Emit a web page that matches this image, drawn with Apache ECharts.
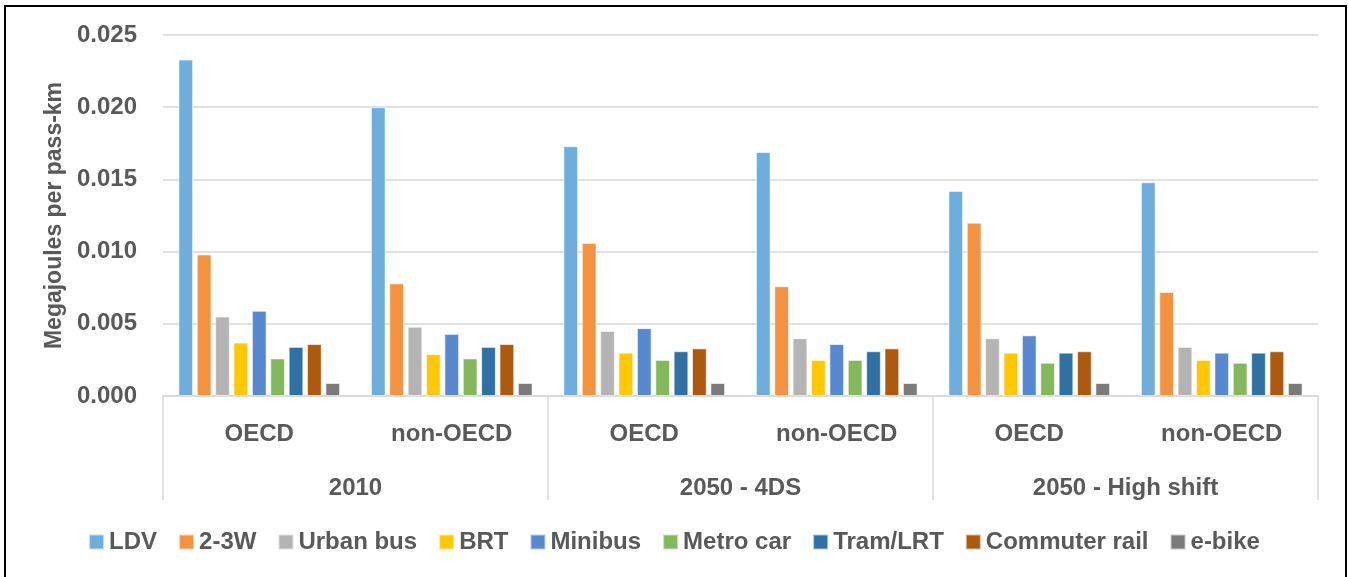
<!DOCTYPE html>
<html>
<head>
<meta charset="utf-8">
<script src="https://cdn.jsdelivr.net/npm/echarts@6/dist/echarts.min.js"></script>
<style>
html,body{margin:0;padding:0;background:#fff;}
#chart{position:absolute;left:0;top:0;width:1348px;height:577px;}
#frame{position:absolute;left:4px;top:5px;width:1339px;height:580px;border:2px solid #000;pointer-events:none;}
</style>
</head>
<body>
<div id="chart"></div>
<div id="frame"></div>
<script>
const regions = ['OECD', 'non-OECD', 'OECD', 'non-OECD', 'OECD', 'non-OECD'];
const scenarios = ['2010', '2050 - 4DS', '2050 - High shift'];
const modes = ['LDV', '2-3W', 'Urban bus', 'BRT', 'Minibus', 'Metro car', 'Tram/LRT', 'Commuter rail', 'e-bike'];

const ldv          = [0.0233, 0.0200, 0.0173, 0.0169, 0.0142, 0.0148];
const twoThreeW    = [0.0098, 0.0078, 0.0106, 0.0076, 0.0120, 0.0072];
const urbanBus     = [0.0055, 0.0048, 0.0045, 0.0040, 0.0040, 0.0034];
const brt          = [0.0037, 0.0029, 0.0030, 0.0025, 0.0030, 0.0025];
const minibus      = [0.0059, 0.0043, 0.0047, 0.0036, 0.0042, 0.0030];
const metroCar     = [0.0026, 0.0026, 0.0025, 0.0025, 0.0023, 0.0023];
const tramLrt      = [0.0034, 0.0034, 0.0031, 0.0031, 0.0030, 0.0030];
const commuterRail = [0.0036, 0.0036, 0.0033, 0.0033, 0.0031, 0.0031];
const eBike        = [0.0009, 0.0009, 0.0009, 0.0009, 0.0009, 0.0009];

const seriesValues = [ldv, twoThreeW, urbanBus, brt, minibus, metroCar, tramLrt, commuterRail, eBike];
const colors = ['#6DAEDD', '#F4923F', '#B4B4B4', '#FFC800', '#5689D0', '#84B95B', '#2E71A2', '#AD5A0E', '#7A7A7A'];

const FONT = 'Liberation Sans';
const TXT = '#595959';
const FS = 24;

const chart = echarts.init(document.getElementById('chart'), null, {renderer: 'canvas'});
chart.setOption({
  animation: false,
  backgroundColor: '#fff',
  color: colors,
  grid: {left: 163, right: 30, top: 35, bottom: 181, containLabel: false},
  legend: {
    data: modes,
    left: 'center',
    top: 525,
    itemWidth: 15,
    itemHeight: 15,
    itemGap: 21,
    icon: 'rect',
    textStyle: {color: TXT, fontFamily: FONT, fontWeight: 'bold', fontSize: FS}
  },
  xAxis: [
    {
      type: 'category',
      data: regions,
      position: 'bottom',
      axisLine: {show: true, lineStyle: {color: '#D9D9D9', width: 1.5}},
      axisTick: {show: false},
      axisLabel: {margin: 26, color: TXT, fontFamily: FONT, fontWeight: 'bold', fontSize: FS, interval: 0}
    },
    {
      type: 'category',
      data: scenarios,
      position: 'bottom',
      axisLine: {show: false},
      axisTick: {show: true, length: 104, lineStyle: {color: '#D9D9D9', width: 1.5}},
      axisLabel: {margin: 80, color: TXT, fontFamily: FONT, fontWeight: 'bold', fontSize: FS, interval: 0}
    }
  ],
  yAxis: {
    type: 'value',
    min: 0,
    max: 0.025,
    interval: 0.005,
    name: 'Megajoules per pass-km',
    nameLocation: 'middle',
    nameRotate: 90,
    nameGap: 94,
    nameTextStyle: {color: TXT, fontFamily: FONT, fontWeight: 'bold', fontSize: 23},
    axisLine: {show: false},
    axisTick: {show: false},
    splitLine: {lineStyle: {color: '#E1E1E1', width: 2}},
    axisLabel: {margin: 26, color: TXT, fontFamily: FONT, fontWeight: 'bold', fontSize: FS,
      verticalAlign: 'middle', lineHeight: 30, padding: [5, 0, 0, 0],
      formatter: v => v.toFixed(3)}
  },
  series: modes.map((m, i) => ({
    name: m,
    type: 'bar',
    xAxisIndex: 0,
    data: seriesValues[i],
    barGap: '25%',
    barCategoryGap: '16%',
    itemStyle: {color: colors[i], borderColor: 'rgba(255,255,255,0.6)', borderWidth: 1}
  }))
});
</script>
</body>
</html>
